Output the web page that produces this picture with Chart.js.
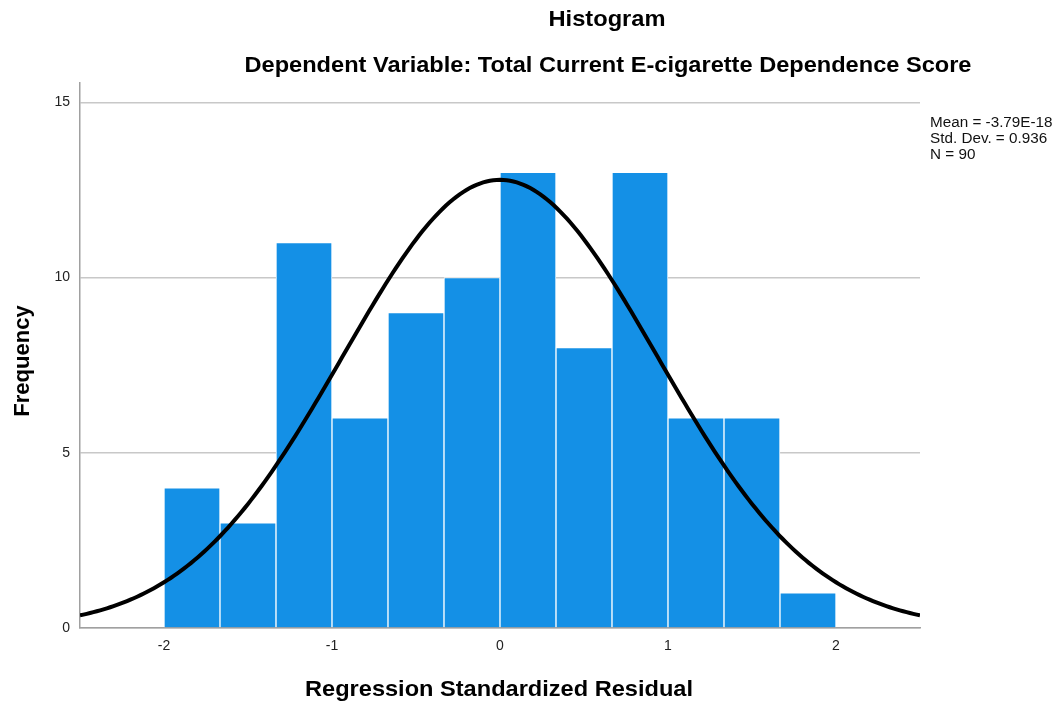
<!DOCTYPE html>
<html>
<head>
<meta charset="utf-8">
<script src="https://cdn.jsdelivr.net/npm/chart.js@4/dist/chart.umd.min.js"></script>
<style>
  html, body { margin: 0; padding: 0; background: #ffffff; }
  #wrap { width: 1057px; height: 706px; position: relative; }
</style>
</head>
<body>
<div id="wrap"><canvas id="chart" width="1057" height="706"></canvas></div>
<script>
// Histogram bins: first lower edge and common width
const binStart = -2;
const binWidth = 1 / 3;
const frequencies = [4, 3, 11, 6, 9, 10, 13, 8, 13, 6, 6, 1];

// Axis ticks
const xTicks = [-2, -1, 0, 1, 2];
const yTicks = [0, 5, 10, 15];

// Summary statistics shown at the right
const residualMean = -3.79e-18;
const residualSD = 0.936;
const residualN = 90;
const statsLines = ['Mean = -3.79E-18', 'Std. Dev. = 0.936', 'N = 90'];

const titleText = 'Histogram';
const subtitleText = 'Dependent Variable: Total Current E-cigarette Dependence Score';
const xTitleText = 'Regression Standardized Residual';
const yTitleText = 'Frequency';

const xMin = -2.5, xMax = 2.5;
const yMax = 15.55;

// Bars centred in their bins
const barData = frequencies.map((f, i) => ({ x: binStart + (i + 0.5) * binWidth, y: f }));

// Normal curve scaled to the histogram (N * bin width * density)
const curveData = [];
for (let k = 0; k <= 250; k++) {
  const x = xMin + (xMax - xMin) * k / 250;
  const z = (x - residualMean) / residualSD;
  const dens = Math.exp(-0.5 * z * z) / (residualSD * Math.sqrt(2 * Math.PI));
  curveData.push({ x: x, y: residualN * binWidth * dens });
}

const FONT = '"Liberation Sans", Arial, Helvetica, sans-serif';

// Text drawn slightly widened, as in the exported SPSS style
function wideText(ctx, text, x, y, sx) {
  ctx.save();
  ctx.translate(x, y);
  ctx.scale(sx, 1);
  ctx.fillText(text, 0, 0);
  ctx.restore();
}

const textPlugin = {
  id: 'chartTexts',
  afterDraw(chart) {
    const ctx = chart.ctx;
    const area = chart.chartArea;
    ctx.save();
    ctx.fillStyle = '#000000';
    ctx.textAlign = 'center';
    ctx.textBaseline = 'middle';
    ctx.font = 'bold 22px ' + FONT;
    wideText(ctx, titleText, 607, 20, 1.075);
    wideText(ctx, subtitleText, 608, 66, 1.072);
    wideText(ctx, xTitleText, 499, 690, 1.072);
    ctx.save();
    ctx.translate(23, 361);
    ctx.rotate(-Math.PI / 2);
    ctx.fillText(yTitleText, 0, 0);
    ctx.restore();
    ctx.textAlign = 'left';
    ctx.font = '14px ' + FONT;
    ctx.fillStyle = '#111111';
    statsLines.forEach((s, i) => wideText(ctx, s, 930, 123 + i * 16, 1.09));
    ctx.restore();
  }
};

new Chart(document.getElementById('chart'), {
  type: 'bar',
  data: {
    datasets: [
      {
        type: 'line',
        data: curveData,
        borderColor: '#000000',
        borderWidth: 4,
        pointRadius: 0,
        fill: false,
        tension: 0,
        order: 0
      },
      {
        type: 'bar',
        data: barData,
        backgroundColor: '#1490e6',
        borderColor: '#ffffff',
        borderWidth: 1,
        borderSkipped: 'bottom',
        barPercentage: 1,
        categoryPercentage: 1,
        order: 1
      }
    ]
  },
  options: {
    responsive: false,
    devicePixelRatio: 1,
    animation: false,
    layout: { padding: { left: 0, top: 83, right: 137, bottom: 48 } },
    plugins: { legend: { display: false }, tooltip: { enabled: false }, title: { display: false } },
    scales: {
      x: {
        type: 'linear',
        min: xMin,
        max: xMax,
        offset: false,
        afterBuildTicks(scale) { scale.ticks = xTicks.map(v => ({ value: v })); },
        afterFit(scale) { scale.height = 30; },
        grid: { display: false, drawTicks: false },
        border: { display: true, color: '#a0a0a0', width: 1.5 },
        ticks: { padding: 10, color: '#222222', font: { family: FONT, size: 14 }, maxRotation: 0 }
      },
      y: {
        type: 'linear',
        min: 0,
        max: yMax,
        afterBuildTicks(scale) { scale.ticks = yTicks.map(v => ({ value: v })); },
        afterFit(scale) { scale.width = 80; },
        grid: { display: true, drawTicks: false, color: '#c8c8c8', lineWidth: 1.5 },
        border: { display: true, color: '#a0a0a0', width: 1.5 },
        ticks: { padding: 10, color: '#222222', font: { family: FONT, size: 14 } }
      }
    }
  },
  plugins: [textPlugin]
});
</script>
</body>
</html>
